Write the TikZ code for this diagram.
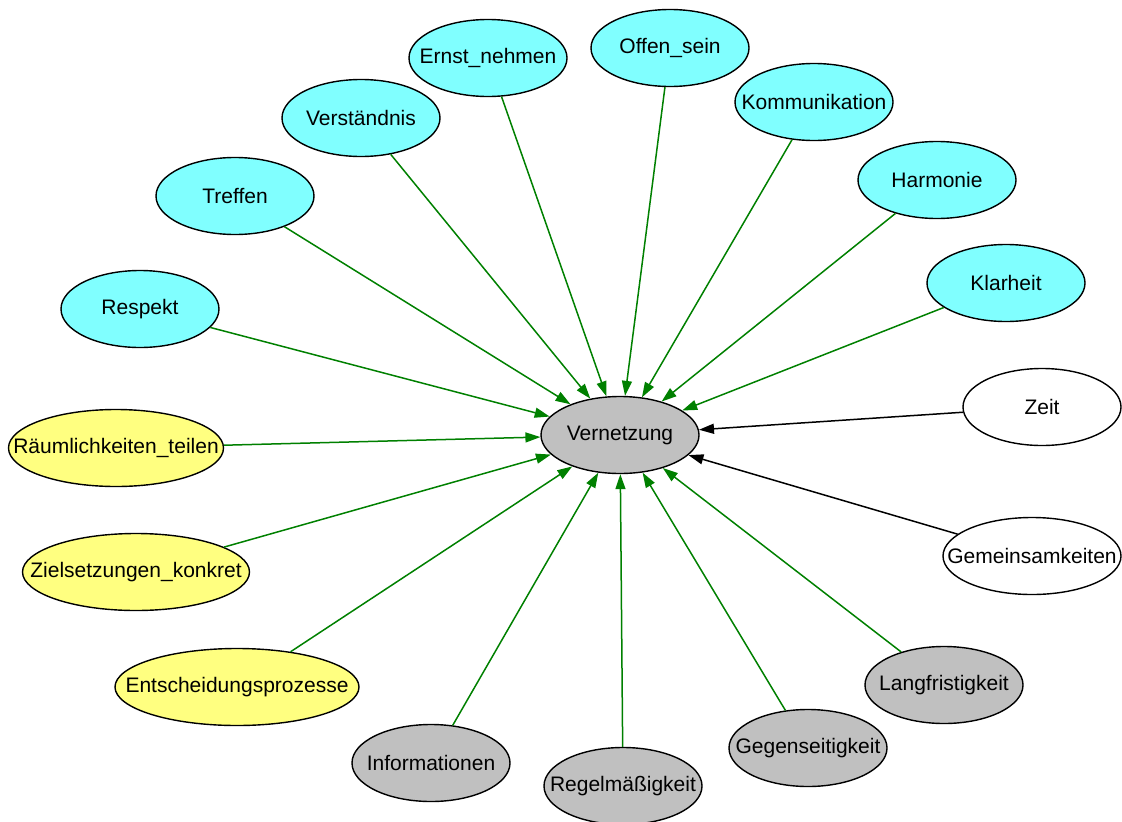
\documentclass[tikz,border=0pt]{standalone}
\usepackage{fontspec}
\setmainfont{Liberation Sans}
\usetikzlibrary{shapes.geometric,arrows.meta}

\definecolor{knotcyan}{HTML}{80FFFF}
\definecolor{knotyellow}{HTML}{FFFF80}
\definecolor{knotgray}{HTML}{C0C0C0}
\definecolor{edgegreen}{HTML}{008000}

\newcommand{\lbl}[1]{\makebox[0pt]{#1}}

\tikzset{
  knot/.style={ellipse, draw=black, line width=1.4pt, inner sep=0pt,
    minimum width=158pt, minimum height=77pt,
    font=\fontsize{21}{24}\selectfont},
  cyanknot/.style={knot, fill=knotcyan},
  yellowknot/.style={knot, fill=knotyellow},
  grayknot/.style={knot, fill=knotgray},
  whiteknot/.style={knot, fill=white},
  link/.style={draw=edgegreen, line width=1.5pt,
    -{Triangle[length=15pt,width=10pt]}, edgegreen},
  blacklink/.style={link, draw=black, black}
}

\begin{document}
\begin{tikzpicture}[x=1pt,y=-1pt]
        \useasboundingbox (0,0) rectangle (1122,822);
        \node[grayknot] (vern) at (620,435) {\lbl{Vernetzung}};
        % cyan ring on top
        \node[cyanknot] (ernst) at (488,58) {\lbl{Ernst\_nehmen}};
        \node[cyanknot] (offen) at (670,48) {\lbl{Offen\_sein}};
        \node[cyanknot] (komm) at (814,102) {\lbl{Kommunikation}};
        \node[cyanknot] (verst) at (361,118) {\lbl{Verständnis}};
        \node[cyanknot] (harm) at (937,180) {\lbl{Harmonie}};
        \node[cyanknot] (treff) at (235,196) {\lbl{Treffen}};
        \node[cyanknot] (klar) at (1006,283) {\lbl{Klarheit}};
        \node[cyanknot] (resp) at (140,309) {\lbl{Respekt}};
        % yellow ones on the left
        \node[yellowknot, minimum width=215pt] (raum) at (116,448) {\lbl{Räumlichkeiten\_teilen}};
        \node[yellowknot, minimum width=227pt] (ziel) at (136,572) {\lbl{Zielsetzungen\_konkret}};
        \node[yellowknot, minimum width=244pt] (entsch) at (237,687) {\lbl{Entscheidungsprozesse}};
        % white ones on the right
        \node[whiteknot] (zeit) at (1042,407) {\lbl{Zeit}};
        \node[whiteknot, minimum width=178pt] (gemein) at (1032,556) {\lbl{Gemeinsamkeiten}};
        % gray ones below
        \node[grayknot] (info) at (431,763) {\lbl{Informationen}};
        \node[grayknot] (regel) at (623,786) {\lbl{Regelmäßigkeit}};
        \node[grayknot] (gegen) at (808,748) {\lbl{Gegenseitigkeit}};
        \node[grayknot] (lang) at (944,685) {\lbl{Langfristigkeit}};
        \foreach \src in {ernst,offen,komm,verst,harm,treff,klar,resp,raum,ziel,entsch,info,regel,gegen,lang}
          \draw[link] (\src) -- (vern);
        \draw[blacklink] (zeit) -- (vern);
        \draw[blacklink] (gemein) -- (vern);
    \end{tikzpicture}
\end{document}
